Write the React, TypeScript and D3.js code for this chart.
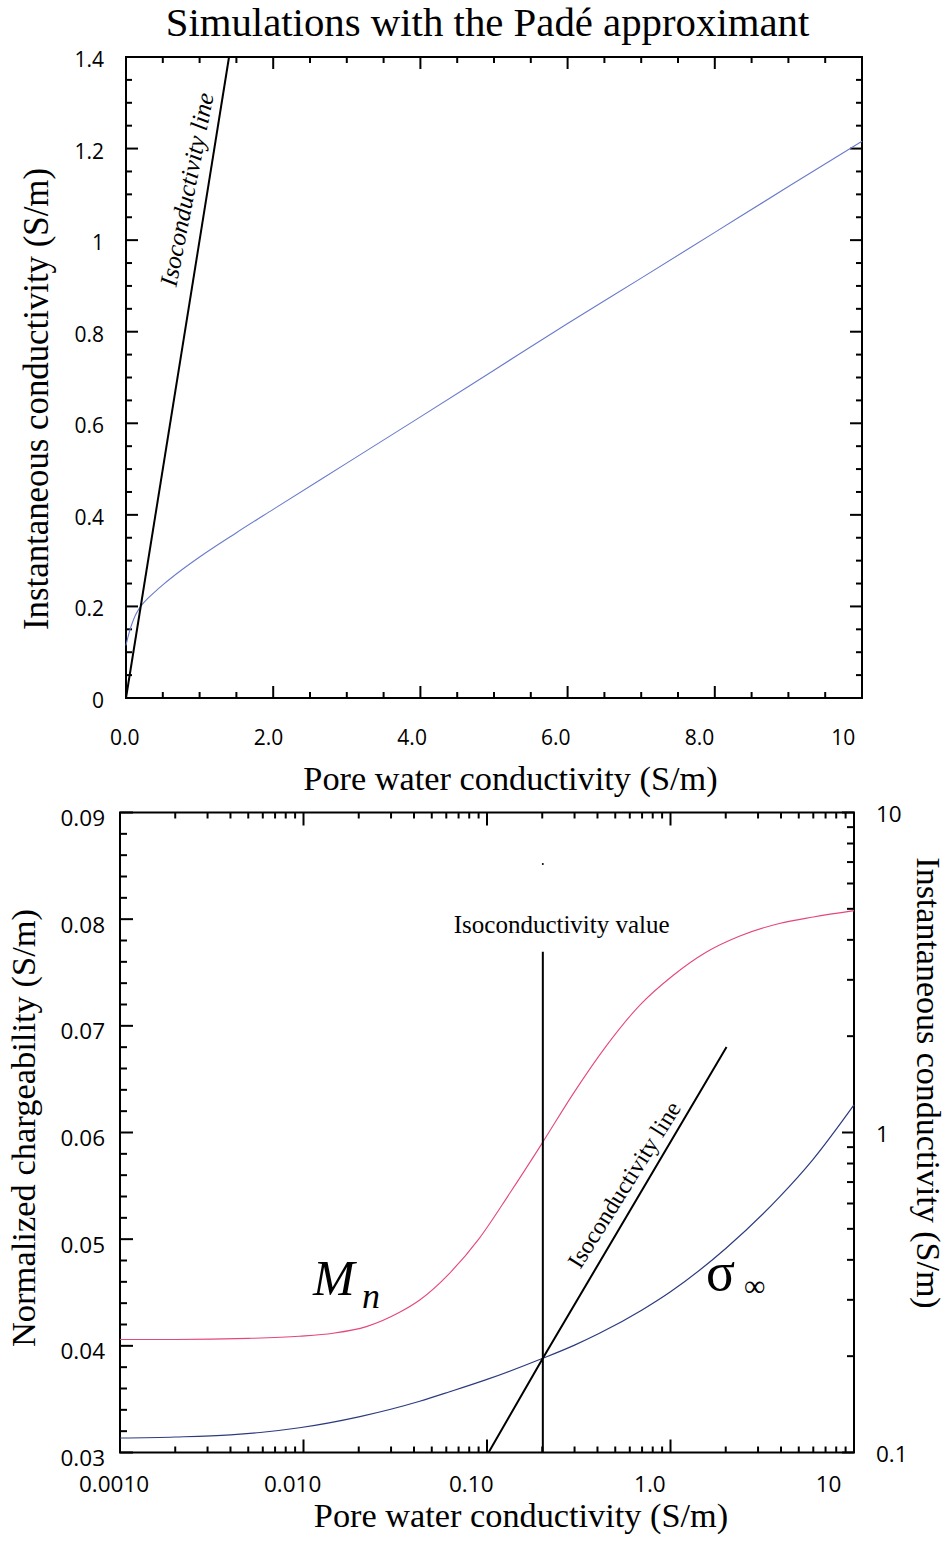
import React from 'react';
import * as d3 from 'd3';

const W = 949;
const H = 1541;

// ---------- Top panel data ----------
const topPoreCond = [0, 0.03, 0.06, 0.09, 0.12, 0.17, 0.23, 0.3, 0.4, 0.5, 0.75, 1, 1.5, 2, 3, 4, 5, 6, 7, 8, 9, 10];
const topInstCond = [0.115, 0.135, 0.152, 0.166, 0.178, 0.193, 0.206, 0.218, 0.233, 0.247, 0.279, 0.308, 0.361, 0.412, 0.513, 0.614, 0.716, 0.818, 0.917, 1.017, 1.117, 1.216];
const topIsoLine = [0, 1.4];
const topXTicks = [0, 2, 4, 6, 8, 10];
const topXTickLabels = ['0.0', '2.0', '4.0', '6.0', '8.0', '10'];
const topYTicks = [0, 0.2, 0.4, 0.6, 0.8, 1, 1.2, 1.4];
const topYTickLabels = ['0', '0.2', '0.4', '0.6', '0.8', '1', '1.2', '1.4'];

// ---------- Bottom panel data ----------
const mnPoreCond = [0.001, 0.002, 0.005, 0.0095, 0.0145, 0.022, 0.033, 0.043, 0.0625, 0.091, 0.133, 0.2015, 0.294, 0.446, 0.677, 1.028, 1.563, 2.37, 3.92, 6.0, 10];
const mnValues = [0.0406, 0.0406, 0.0407, 0.0409, 0.04118, 0.0418, 0.0431, 0.0443, 0.0468, 0.0501, 0.0543, 0.0591, 0.0636, 0.0681, 0.0719, 0.0747, 0.0769, 0.0784, 0.0796, 0.0802, 0.0808];
const sigPoreCond = [0.001, 0.002, 0.004, 0.0058, 0.0095, 0.0203, 0.043, 0.0626, 0.1, 0.2015, 0.3, 0.41, 0.7, 1.0, 2.0, 3.92, 5.94, 10];
const sigInstCond = [0.111, 0.1118, 0.1135, 0.1155, 0.1195, 0.1295, 0.1446, 0.1548, 0.1692, 0.197, 0.2166, 0.2358, 0.279, 0.318, 0.434, 0.628, 0.82, 1.22];
const isoLinePoreCond = [0.102, 0.2015, 2.02];
const isoLineInstCond = [0.1, 0.197, 1.85];
const isoValue = 0.2015;
const isoValueTop = 3.67; // on the instantaneous-conductivity axis
const botXTicks = [0.001, 0.01, 0.1, 1, 10];
const botXTickLabels = ['0.0010', '0.010', '0.10', '1.0', '10'];
const botYLTicks = [0.03, 0.04, 0.05, 0.06, 0.07, 0.08, 0.09];
const botYLTickLabels = ['0.03', '0.04', '0.05', '0.06', '0.07', '0.08', '0.09'];
const botYRTicks = [0.1, 1, 10];
const botYRTickLabels = ['0.1', '1', '10'];

const serif = "'Liberation Serif', 'Times New Roman', serif";
const sans = "'Open Sans', 'Liberation Sans', sans-serif";

const near = (a: number, b: number) => Math.abs(a - b) < 1e-9;

function TopPanel() {
  const m = { l: 126, r: 862, t: 57, b: 698 };
  const x = d3.scaleLinear().domain([0, 10]).range([m.l, m.r]);
  const xLab = d3.scaleLinear().domain([0, 10]).range([124.7, 843.3]);
  const y = d3.scaleLinear().domain([0, 1.4]).range([m.b, m.t]);
  const line = d3
    .line<number>()
    .x((_, i) => x(topPoreCond[i]))
    .y((d) => y(d))
    .curve(d3.curveMonotoneX);
  const isMajX = (v: number) => topXTicks.some((t) => near(t, v));
  const isMajY = (v: number) => topYTicks.some((t) => near(t, v));
  return (
    <g>
      <text x={487.5} y={36} textAnchor="middle" fontFamily={serif} fontSize={40.8}>
        Simulations with the Padé approximant
      </text>
      {x.ticks(20).map((v, i) => {
        const len = isMajX(v) ? 12 : 6;
        return (
          <g key={'tx' + i} stroke="#000" strokeWidth={2}>
            <line x1={x(v)} x2={x(v)} y1={m.b} y2={m.b - len} />
            <line x1={x(v)} x2={x(v)} y1={m.t} y2={m.t + len} />
          </g>
        );
      })}
      {y.ticks(28).map((v, i) => {
        const len = isMajY(v) ? 12 : 6;
        return (
          <g key={'ty' + i} stroke="#000" strokeWidth={2}>
            <line x1={m.l} x2={m.l + len} y1={y(v)} y2={y(v)} />
            <line x1={m.r} x2={m.r - len} y1={y(v)} y2={y(v)} />
          </g>
        );
      })}
      <rect x={m.l} y={m.t} width={m.r - m.l} height={m.b - m.t} fill="none" stroke="#000" strokeWidth={2} />
      {topXTicks.map((v, i) => (
        <text key={'xl' + i} x={xLab(v)} y={745} textAnchor="middle" fontFamily={sans} fontSize={21}>
          {topXTickLabels[i]}
        </text>
      ))}
      {topYTicks.map((v, i) => (
        <text key={'yl' + i} x={104} y={y(v) + 10} textAnchor="end" fontFamily={sans} fontSize={21}>
          {topYTickLabels[i]}
        </text>
      ))}
      <path d={line(topInstCond) || ''} fill="none" stroke="#6a7bcc" strokeWidth={1.1} />
      <line
        x1={x(topIsoLine[0])}
        y1={y(topIsoLine[0])}
        x2={x(topIsoLine[1])}
        y2={y(topIsoLine[1])}
        stroke="#000"
        strokeWidth={2}
      />
      <text
        transform="translate(195,191) rotate(-79)"
        textAnchor="middle"
        fontFamily={serif}
        fontStyle="italic"
        fontSize={25}
      >
        Isoconductivity line
      </text>
      <text x={510.5} y={790} textAnchor="middle" fontFamily={serif} fontSize={34.3}>
        Pore water conductivity (S/m)
      </text>
      <text transform="translate(48,399) rotate(-90)" textAnchor="middle" fontFamily={serif} fontSize={34.8}>
        Instantaneous conductivity (S/m)
      </text>
    </g>
  );
}

function BottomPanel() {
  const m = { l: 120, r: 854, t: 812.5, b: 1452.5 };
  const x = d3.scaleLog().domain([0.001, 10]).range([m.l, m.r]);
  const xLab = d3.scaleLog().domain([0.001, 10]).range([114, 828.5]);
  const yL = d3.scaleLinear().domain([0.03, 0.09]).range([m.b, m.t]);
  const yR = d3.scaleLog().domain([0.1, 10]).range([m.b, m.t]);
  const mnLine = d3
    .line<number>()
    .x((_, i) => x(mnPoreCond[i]))
    .y((d) => yL(d))
    .curve(d3.curveMonotoneX);
  const sigLine = d3
    .line<number>()
    .x((_, i) => x(sigPoreCond[i]))
    .y((d) => yR(d))
    .curve(d3.curveMonotoneX);
  const isoLine = d3
    .line<number>()
    .x((_, i) => x(isoLinePoreCond[i]))
    .y((d) => yR(d));
  const isPow = (v: number) => near(Math.log10(v), Math.round(Math.log10(v)));
  const isMajL = (v: number) => botYLTicks.some((t) => near(t, v));
  return (
    <g>
      {x.ticks().map((v, i) => {
        const len = isPow(v) ? 13 : 6;
        return (
          <g key={'bx' + i} stroke="#000" strokeWidth={2}>
            <line x1={x(v)} x2={x(v)} y1={m.b} y2={m.b - len} />
            <line x1={x(v)} x2={x(v)} y1={m.t} y2={m.t + len} />
          </g>
        );
      })}
      {yL.ticks(30).map((v, i) => {
        const len = isMajL(v) ? 13 : 7;
        return <line key={'byl' + i} x1={m.l} x2={m.l + len} y1={yL(v)} y2={yL(v)} stroke="#000" strokeWidth={2} />;
      })}
      {yR.ticks().map((v, i) => {
        const len = isPow(v) ? 12 : 7;
        return <line key={'byr' + i} x1={m.r} x2={m.r - len} y1={yR(v)} y2={yR(v)} stroke="#000" strokeWidth={2} />;
      })}
      <rect x={m.l} y={m.t} width={m.r - m.l} height={m.b - m.t} fill="none" stroke="#000" strokeWidth={2} />
      {botXTicks.map((v, i) => (
        <text key={'bxl' + i} x={xLab(v)} y={1492} textAnchor="middle" fontFamily={sans} fontSize={22.5}>
          {botXTickLabels[i]}
        </text>
      ))}
      {botYLTicks.map((v, i) => (
        <text key={'bll' + i} x={105} y={yL(v) + 13.5} textAnchor="end" fontFamily={sans} fontSize={22.5}>
          {botYLTickLabels[i]}
        </text>
      ))}
      {botYRTicks.map((v, i) => (
        <text key={'brl' + i} x={876} y={yR(v) + 9} textAnchor="start" fontFamily={sans} fontSize={22.5}>
          {botYRTickLabels[i]}
        </text>
      ))}
      <path d={mnLine(mnValues) || ''} fill="none" stroke="#e4477c" strokeWidth={1.1} />
      <path d={sigLine(sigInstCond) || ''} fill="none" stroke="#2d3b7e" strokeWidth={1.2} />
      <path d={isoLine(isoLineInstCond) || ''} fill="none" stroke="#000" strokeWidth={2} />
      <line x1={x(isoValue)} x2={x(isoValue)} y1={m.b} y2={yR(isoValueTop)} stroke="#000" strokeWidth={2} />
      <circle cx={x(isoValue)} cy={864} r={1} fill="#000" />
      <text x={561.7} y={933} textAnchor="middle" fontFamily={serif} fontSize={25}>
        Isoconductivity value
      </text>
      <text transform="translate(631,1189) rotate(-58)" textAnchor="middle" fontFamily={serif} fontSize={24}>
        Isoconductivity line
      </text>
      <text x={313} y={1295} fontFamily={serif} fontStyle="italic" fontSize={50}>
        M
      </text>
      <text x={362} y={1308} fontFamily={serif} fontStyle="italic" fontSize={36}>
        n
      </text>
      <text x={706} y={1290} fontFamily={serif} fontSize={54}>
        σ
      </text>
      <text x={744} y={1296} fontFamily={serif} fontSize={30}>
        ∞
      </text>
      <text x={521} y={1527} textAnchor="middle" fontFamily={serif} fontSize={34.3}>
        Pore water conductivity (S/m)
      </text>
      <text transform="translate(35,1128) rotate(-90)" textAnchor="middle" fontFamily={serif} fontSize={34.5}>
        Normalized chargeability (S/m)
      </text>
      <text transform="translate(917,1083) rotate(90)" textAnchor="middle" fontFamily={serif} fontSize={34}>
        Instantaneous conductivity (S/m)
      </text>
    </g>
  );
}

export default function App() {
  return (
    <svg
      width={W}
      height={H}
      viewBox={`0 0 ${W} ${H}`}
      style={{ position: 'absolute', left: 0, top: 0, display: 'block', background: '#fff' }}
    >
      <rect x={0} y={0} width={W} height={H} fill="#fff" />
      <TopPanel />
      <BottomPanel />
    </svg>
  );
}
